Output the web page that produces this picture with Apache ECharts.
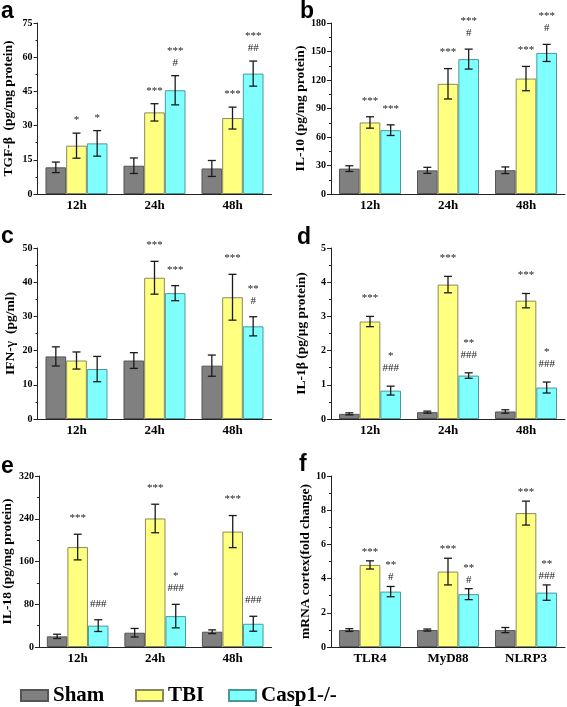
<!DOCTYPE html>
<html><head><meta charset="utf-8">
<script src="https://cdn.jsdelivr.net/npm/echarts@6/dist/echarts.min.js"></script>
<style>html,body{margin:0;padding:0;background:#fff}#c{width:567px;height:707px}</style>
</head><body><div id="c"></div>
<script>
// ---------- categories ----------
const timeCats = ['12h', '24h', '48h'];
const geneCats = ['TLR4', 'MyD88', 'NLRP3'];
const groupNames = ['Sham', 'TBI', 'Casp1-/-'];
const noSig = ['', '', ''];

// ---------- a: TGF-β ----------
const tgfSham = [11.7, 12.4, 11.2];
const tgfShamErr = [2.3, 3.4, 3.5];
const tgfTbi = [21.2, 35.8, 33.3];
const tgfTbiErr = [5.5, 3.8, 4.8];
const tgfCasp = [22.2, 45.5, 52.8];
const tgfCaspErr = [5.6, 6.4, 5.5];
const tgfTbiSig = ['*', '***', '***'];
const tgfCaspSig = ['*', '***\n#', '***\n##'];

// ---------- b: IL-10 ----------
const il10Sham = [26.7, 24.9, 25.0];
const il10ShamErr = [3.0, 3.2, 3.5];
const il10Tbi = [75.3, 116.0, 121.5];
const il10TbiErr = [6.0, 16.0, 12.8];
const il10Casp = [67.2, 142.0, 148.5];
const il10CaspErr = [5.6, 10.5, 9.0];
const il10TbiSig = ['***', '***', '***'];
const il10CaspSig = ['***', '***\n#', '***\n#'];

// ---------- c: IFN-γ ----------
const ifnSham = [18.3, 17.1, 15.6];
const ifnShamErr = [2.8, 2.3, 3.1];
const ifnTbi = [17.1, 41.3, 35.6];
const ifnTbiErr = [2.5, 4.8, 6.7];
const ifnCasp = [14.6, 36.8, 27.1];
const ifnCaspErr = [3.7, 2.2, 2.8];
const ifnTbiSig = ['', '***', '***'];
const ifnCaspSig = ['', '***', '**\n#'];

// ---------- d: IL-1β ----------
const il1Sham = [0.15, 0.20, 0.22];
const il1ShamErr = [0.03, 0.03, 0.05];
const il1Tbi = [2.85, 3.93, 3.46];
const il1TbiErr = [0.15, 0.24, 0.21];
const il1Casp = [0.83, 1.27, 0.92];
const il1CaspErr = [0.13, 0.08, 0.16];
const il1TbiSig = ['***', '***', '***'];
const il1CaspSig = ['*\n###', '**\n###', '*\n###'];

// ---------- e: IL-18 ----------
const il18Sham = [19.9, 26.7, 28.6];
const il18ShamErr = [4.0, 8.0, 3.5];
const il18Tbi = [187, 240.5, 216];
const il18TbiErr = [24, 26.7, 30];
const il18Casp = [40, 57.8, 43.5];
const il18CaspErr = [11, 22, 14];
const il18TbiSig = ['***', '***', '***'];
const il18CaspSig = ['###', '*\n###', '###'];

// ---------- f: mRNA ----------
const mrnaSham = [0.99, 0.99, 0.99];
const mrnaShamErr = [0.08, 0.06, 0.15];
const mrnaTbi = [4.80, 4.41, 7.83];
const mrnaTbiErr = [0.24, 0.78, 0.70];
const mrnaCasp = [3.24, 3.09, 3.18];
const mrnaCaspErr = [0.30, 0.32, 0.45];
const mrnaTbiSig = ['***', '***', '***'];
const mrnaCaspSig = ['**\n#', '**\n#', '**\n###'];

// ---------- styles ----------
const SERIF = '"Liberation Serif", "Times New Roman", serif';
const CAT_GAP = 0.205;
const fills = ['#808080', '#ffff80', '#80ffff'];
const borders = ['#555555', '#8a8a60', '#4a9a9a'];

const panels = [
  { letter: 'a', cats: timeCats, title: 'TGF-β  (pg/mg protein)', max: 75, interval: 15,
    left: 37.5, top: 23, nameGap: 22, sigOff: 7, lx: 1, ly: 22,
    means: [tgfSham, tgfTbi, tgfCasp], errs: [tgfShamErr, tgfTbiErr, tgfCaspErr], sigs: [noSig, tgfTbiSig, tgfCaspSig] },
  { letter: 'b', cats: timeCats, title: 'IL-10 (pg/mg protein)', max: 180, interval: 30,
    left: 331, top: 23, nameGap: 23, sigOff: 10, lx: 300, ly: 22,
    means: [il10Sham, il10Tbi, il10Casp], errs: [il10ShamErr, il10TbiErr, il10CaspErr], sigs: [noSig, il10TbiSig, il10CaspSig] },
  { letter: 'c', cats: timeCats, title: 'IFN-γ  (pg/ml)', max: 50, interval: 10,
    left: 37.5, top: 248, nameGap: 20, sigOff: 10, lx: 1, ly: 247,
    means: [ifnSham, ifnTbi, ifnCasp], errs: [ifnShamErr, ifnTbiErr, ifnCaspErr], sigs: [noSig, ifnTbiSig, ifnCaspSig] },
  { letter: 'd', cats: timeCats, title: 'IL-1β (pg/μg protein)', max: 5, interval: 1,
    left: 331, top: 248, nameGap: 22, sigOff: 12, lx: 297, ly: 248,
    means: [il1Sham, il1Tbi, il1Casp], errs: [il1ShamErr, il1TbiErr, il1CaspErr], sigs: [noSig, il1TbiSig, il1CaspSig] },
  { letter: 'e', cats: timeCats, title: 'IL-18 (pg/mg protein)', max: 320, interval: 80,
    left: 37.5, top: 476, nameGap: 23, sigOff: 10, lx: 1, ly: 477,
    means: [il18Sham, il18Tbi, il18Casp], errs: [il18ShamErr, il18TbiErr, il18CaspErr], sigs: [noSig, il18TbiSig, il18CaspSig] },
  { letter: 'f', cats: geneCats, title: 'mRNA cortex(fold change)', max: 10, interval: 2,
    left: 331, top: 476, nameGap: 13, sigOff: 3, lx: 299, ly: 475,
    means: [mrnaSham, mrnaTbi, mrnaCasp], errs: [mrnaShamErr, mrnaTbiErr, mrnaCaspErr], sigs: [noSig, mrnaTbiSig, mrnaCaspSig] }
];

function makeRender(g, sig, off) {
  return function (params, api) {
    const k = api.value(0), m = api.value(1), e = api.value(2);
    const band = api.size([1, 0])[0];
    const bw = band * (1 - CAT_GAP) / 3;
    const x = api.coord([k, m])[0] + (g - 1) * bw;
    const yt = api.coord([k, m + e])[1];
    const yb = api.coord([k, m - e])[1];
    const st = { stroke: '#1a1a1a', lineWidth: 1.3 };
    const children = [
      { type: 'line', shape: { x1: x, y1: yt, x2: x, y2: yb }, style: st },
      { type: 'line', shape: { x1: x - 4, y1: yt, x2: x + 4, y2: yt }, style: st },
      { type: 'line', shape: { x1: x - 4, y1: yb, x2: x + 4, y2: yb }, style: st }
    ];
    const s = sig[params.dataIndex];
    if (s) {
      children.push({ type: 'text', style: { text: s, x: x, y: yt - off, align: 'center', verticalAlign: 'bottom',
        font: '11px ' + SERIF, fill: '#222', lineHeight: 12 } });
    }
    return { type: 'group', children: children };
  };
}

const grid = [], xAxis = [], yAxis = [], series = [], graphic = [];
panels.forEach((p, i) => {
  grid.push({ left: p.left, top: p.top, width: 234, height: 171 });
  xAxis.push({ type: 'category', gridIndex: i, data: p.cats,
    axisLine: { lineStyle: { color: '#222', width: 1 } },
    axisTick: { inside: true, length: 3, lineStyle: { color: '#222' } },
    axisLabel: { fontFamily: SERIF, fontWeight: 'bold', fontSize: 13, color: '#000', margin: 5 } });
  yAxis.push({ type: 'value', gridIndex: i, min: 0, max: p.max, interval: p.interval,
    axisLine: { show: true, lineStyle: { color: '#222', width: 1 } },
    axisTick: { show: true, length: 4, lineStyle: { color: '#222' } },
    minorTick: { show: true, splitNumber: 2, length: 2, lineStyle: { color: '#222' } },
    splitLine: { show: false },
    axisLabel: { fontFamily: SERIF, fontWeight: 'bold', fontSize: 10, color: '#000', margin: 5 },
    name: p.title, nameLocation: 'middle', nameRotate: 90, nameGap: p.nameGap,
    nameTextStyle: { fontFamily: SERIF, fontWeight: 'bold', fontSize: 13.5, color: '#000' } });
  for (let g = 0; g < 3; g++) {
    series.push({ type: 'bar', name: groupNames[g], xAxisIndex: i, yAxisIndex: i,
      data: p.means[g], barGap: '0%', barCategoryGap: (CAT_GAP * 100) + '%',
      itemStyle: { color: fills[g], borderColor: borders[g], borderWidth: 1 },
      emphasis: { disabled: true }, animation: false });
  }
  for (let g = 0; g < 3; g++) {
    series.push({ type: 'custom', name: 'err' + i + '_' + g, xAxisIndex: i, yAxisIndex: i,
      data: p.cats.map((c, k) => [k, p.means[g][k], p.errs[g][k]]),
      renderItem: makeRender(g, p.sigs[g], p.sigOff), z: 5, animation: false, silent: true });
  }
  graphic.push({ type: 'text', left: p.lx, top: p.ly - 22,
    style: { text: p.letter, font: 'bold 23px "Liberation Sans", Arial, sans-serif', fill: '#000' } });
});

const legendText = { fontFamily: SERIF, fontWeight: 'bold', fontSize: 21, color: '#000' };
const legendPos = [20, 135, 228];
const legend = groupNames.map((n, g) => ({
  data: [n], left: legendPos[g], top: 685, icon: 'rect', itemWidth: 27, itemHeight: 11,
  selectedMode: false, textStyle: legendText, padding: 0
}));

const chart = echarts.init(document.getElementById('c'), null, { renderer: 'canvas' });
chart.setOption({ animation: false, backgroundColor: '#fff', grid, xAxis, yAxis, series, legend, graphic });
</script>
</body></html>
